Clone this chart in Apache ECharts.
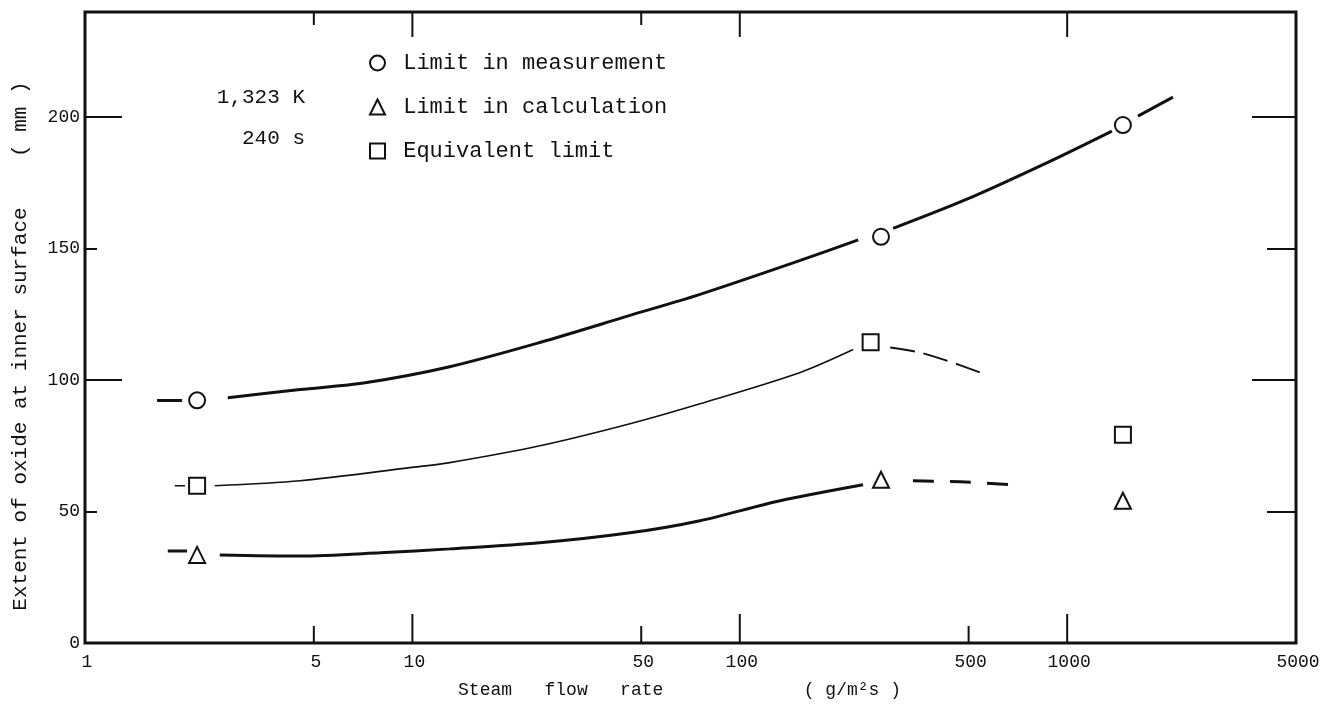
<!DOCTYPE html>
<html><head><meta charset="utf-8">
<script src="https://cdn.jsdelivr.net/npm/echarts@6/dist/echarts.min.js"></script>
<style>html,body{margin:0;padding:0;background:#fff}#c{width:1337px;height:724px}</style>
</head><body><div id="c"></div>
<script>
// ---- data ----
const xTickVals = [1, 5, 10, 50, 100, 500, 1000, 5000];
const xTickLabels = ['1', '5', '10', '50', '100', '500', '1000', '5000'];
const xTopTickVals = [5, 10, 50, 100, 1000];

const measPoints = [[2.2, 92.3], [270, 154.5], [1480, 197]];
const calcPoints = [[2.2, 33.5], [270, 62.1], [1480, 54.1]];
const equivPoints = [[2.2, 59.8], [251, 114.4], [1480, 79.2]];

const measStub = [[1.66, 92.2], [1.98, 92.2]];
const measCurveA = [[2.73, 93.3], [4.54, 96.4], [7.17, 99.0], [13.0, 105.1], [24.5, 114.3], [46.2, 124.6], [75.6, 132.6], [153, 145.5], [230, 153.3]];
const measCurveB = [[294, 157.7], [494, 168.8], [886, 183.2], [1370, 194.7]];
const measCurveC = [[1645, 200.4], [2105, 207.6]];

const equivStub = [[1.88, 59.8], [2.02, 59.8]];
const equivCurve = [[2.49, 59.8], [4.54, 61.7], [9.83, 66.7], [13.0, 68.6], [24.5, 75.0], [46.2, 83.4], [75.6, 91.0], [153, 102.9], [222, 111.6]];
const equivDash = [[288, 112.4], [355, 110.5], [429, 107.4], [542, 102.9]];

const calcStub = [[1.79, 35.0], [2.05, 35.0]];
const calcCurve = [[2.58, 33.5], [4.54, 33.1], [7.96, 34.3], [13.0, 35.8], [24.5, 38.1], [46.2, 41.9], [75.6, 46.5], [132.7, 54.1], [238, 60.2]];
const calcDash = [[338, 61.7], [471, 61.3], [669, 60.2]];

// ---- chart ----
const INK = '#111';
const MONO = '"Liberation Mono", "DejaVu Sans Mono", monospace';
const chart = echarts.init(document.getElementById('c'));

function lineSeries(data, width, dashed) {
  return {
    type: 'line', data: data, smooth: 0.3, symbol: 'none', silent: true, z: 3,
    lineStyle: { color: INK, width: width, type: dashed ? dashed : 'solid' }
  };
}
function markerSeries(name, symbol, data) {
  return {
    name: name, type: 'scatter', data: data, symbol: symbol, symbolSize: 16, z: 6,
    itemStyle: { color: '#fff', borderColor: INK, borderWidth: 2, opacity: 1 }
  };
}
function isMajor(v) { const l = Math.log10(v); return Math.abs(l - Math.round(l)) < 1e-9; }

const yBase = { type: 'value', min: 0, max: 240, interval: 50, splitLine: { show: false }, axisLine: { show: false } };

chart.setOption({
  animation: false,
  backgroundColor: '#fff',
  grid: { left: 85, right: 41, top: 12, bottom: 81, show: true, borderColor: INK, borderWidth: 3, backgroundColor: 'transparent' },
  xAxis: {
    type: 'log', logBase: 10, min: 1, max: 5000,
    axisLine: { show: false }, axisTick: { show: false }, axisLabel: { show: false }, splitLine: { show: false },
    name: 'Steam   flow   rate             ( g/m²s )', nameLocation: 'middle', nameGap: 38,
    nameTextStyle: { fontFamily: MONO, fontSize: 18, color: INK, padding: [0, 22, 0, 0] }
  },
  yAxis: [
    Object.assign({}, yBase, {
      position: 'left',
      axisTick: { show: true, inside: true, length: 12, lineStyle: { color: INK, width: 2 } },
      axisLabel: { show: true, margin: 5, fontFamily: MONO, fontSize: 18, color: INK, showMaxLabel: false,
        formatter: v => (v > 200 ? '' : String(v)) },
      name: 'Extent of oxide at inner surface    ( mm )', nameLocation: 'middle', nameRotate: 90, nameGap: 54,
      nameTextStyle: { fontFamily: MONO, fontSize: 21, color: INK, padding: [0, 37, 0, 0] }
    }),
    Object.assign({}, yBase, {
      position: 'left', interval: 100,
      axisTick: { show: true, inside: true, length: 37, lineStyle: { color: INK, width: 2 } },
      axisLabel: { show: false }
    }),
    Object.assign({}, yBase, {
      position: 'right',
      axisTick: { show: true, inside: true, length: 29, lineStyle: { color: INK, width: 2 } },
      axisLabel: { show: false }
    }),
    Object.assign({}, yBase, {
      position: 'right', interval: 100,
      axisTick: { show: true, inside: true, length: 44, lineStyle: { color: INK, width: 2 } },
      axisLabel: { show: false }
    })
  ],
  legend: {
    orient: 'vertical', left: 369, top: 52, padding: 0, itemWidth: 15, itemHeight: 15, itemGap: 22,
    selectedMode: false, formatter: ' {name}',
    textStyle: { fontFamily: MONO, fontSize: 22, color: INK, lineHeight: 22 },
    itemStyle: { color: '#fff', borderColor: INK, borderWidth: 2 },
    data: [
      { name: 'Limit in measurement', icon: 'circle' },
      { name: 'Limit in calculation', icon: 'triangle' },
      { name: 'Equivalent limit', icon: 'rect' }
    ]
  },
  graphic: [
    { type: 'text', right: 1337 - 305, top: 87, style: { text: '1,323 K', font: '21px ' + MONO, fill: INK } },
    { type: 'text', right: 1337 - 305, top: 128, style: { text: '240 s', font: '21px ' + MONO, fill: INK } }
  ],
  series: [
    lineSeries(measStub, 3), lineSeries(measCurveA, 3), lineSeries(measCurveB, 3), lineSeries(measCurveC, 3),
    lineSeries(equivStub, 1.6), lineSeries(equivCurve, 1.6), lineSeries(equivDash, 2, [25, 9]),
    lineSeries(calcStub, 3), lineSeries(calcCurve, 3), lineSeries(calcDash, 3, [21, 16]),
    markerSeries('Limit in measurement', 'circle', measPoints),
    markerSeries('Limit in calculation', 'triangle', calcPoints),
    markerSeries('Equivalent limit', 'rect', equivPoints),
    {
      type: 'custom', silent: true, clip: false, z: 8,
      data: xTickVals.map(v => [v, 0]),
      renderItem: function (params, api) {
        const v = api.value(0);
        const b = api.coord([v, 0]);
        const len = isMajor(v) ? 29 : 17;
        return {
          type: 'group', children: [
            { type: 'line', shape: { x1: b[0], y1: b[1], x2: b[0], y2: b[1] - len }, style: { stroke: INK, lineWidth: 2 } },
            { type: 'text', style: { x: b[0] + 2, y: b[1] + 10, text: xTickLabels[params.dataIndex], font: '18px ' + MONO, fill: INK, textAlign: 'center', textVerticalAlign: 'top' } }
          ]
        };
      }
    },
    {
      type: 'custom', silent: true, clip: false, z: 8,
      data: xTopTickVals.map(v => [v, 240]),
      renderItem: function (params, api) {
        const v = api.value(0);
        const t = api.coord([v, 240]);
        const len = isMajor(v) ? 25 : 13;
        return { type: 'line', shape: { x1: t[0], y1: t[1], x2: t[0], y2: t[1] + len }, style: { stroke: INK, lineWidth: 2 } };
      }
    }
  ]
});
</script>
</body></html>
